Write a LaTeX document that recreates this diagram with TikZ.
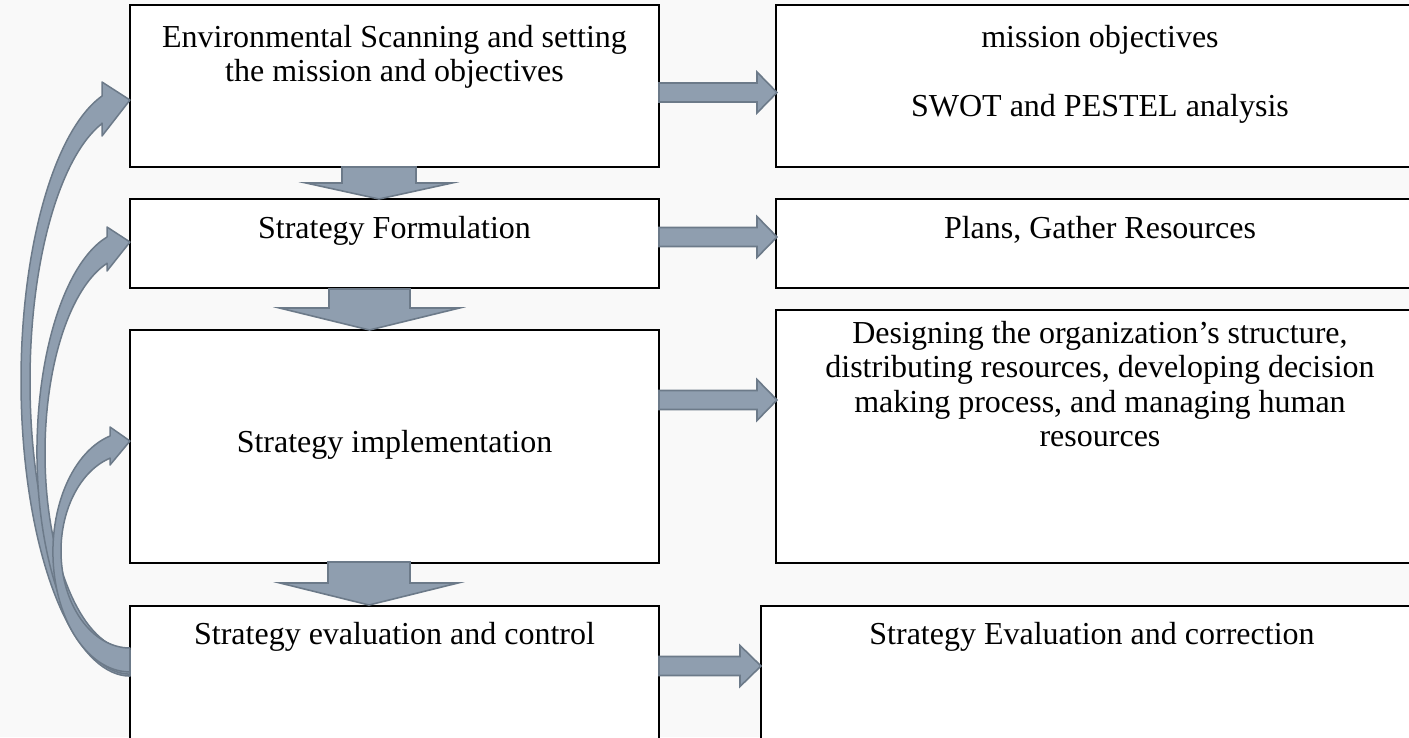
\documentclass[tikz,border=0pt]{standalone}
\usepackage{fontspec}
\setmainfont{Liberation Serif}
\usetikzlibrary{calc}
\definecolor{bg}{RGB}{249,249,249}
\definecolor{arrfill}{RGB}{143,158,175}
\definecolor{arrline}{RGB}{108,122,137}
\tikzset{
  box/.style={draw=black, line width=1.3pt, fill=white, rectangle, inner sep=0pt, outer sep=0pt},
  txt/.style={align=center, inner sep=0pt, anchor=base, font=\fontsize{32}{34.5}\selectfont},
  blockarrow/.style={fill=arrfill, draw=arrline, line width=1.6pt, line join=miter},
  curvearrow/.style={fill=arrfill, draw=arrline, line width=1.5pt, line join=round}
}
% right block arrow: x start, x head base, x tip, y center
\newcommand{\blockRight}[4]{%
  \path[blockarrow] (#1,#4-9.5) -- (#2,#4-9.5) -- (#2,#4-20.5) -- (#3,#4) -- (#2,#4+20.5) -- (#2,#4+9.5) -- (#1,#4+9.5) -- cycle;}
% down block arrow: x center, y top, y head base, y tip, shaft half, head half
\newcommand{\blockDown}[6]{%
  \path[blockarrow] (#1-#5,#2) -- (#1+#5,#2) -- (#1+#5,#3) -- (#1+#6,#3) -- (#1,#4) -- (#1-#6,#3) -- (#1-#5,#3) -- cycle;}
\begin{document}
\begin{tikzpicture}[x=1pt,y=-1pt]
\useasboundingbox (0,0) rectangle (1409,737);
\clip (0,0) rectangle (1409,737);
\fill[bg] (0,0) rectangle (1409,737);

% left column boxes
\node[box, minimum width=529pt, minimum height=162pt] (b1) at (394.5,86) {};
\node[box, minimum width=529pt, minimum height=89pt] (b2) at (394.5,243.5) {};
\node[box, minimum width=529pt, minimum height=233pt] (b3) at (394.5,446.5) {};
\node[box, minimum width=529pt, minimum height=134pt] (b4) at (394.5,673) {};
% right column boxes (running past the right edge)
\node[box, minimum width=648pt, minimum height=162pt] (r1) at (1100,86) {};
\node[box, minimum width=648pt, minimum height=89pt] (r2) at (1100,243.5) {};
\node[box, minimum width=648pt, minimum height=253pt] (r3) at (1100,436.5) {};
\node[box, minimum width=663pt, minimum height=134pt] (r4) at (1092.5,673) {};

% texts (anchored at the baseline of their last line)
\node[txt] (t1) at (394.5,81.5) {Environmental Scanning and setting\\the mission and objectives};
\node[txt] (t2) at (394.5,238) {Strategy Formulation};
\node[txt] (t3) at (394.5,452) {Strategy implementation};
\node[txt] (t4) at (394.5,644) {Strategy evaluation and control};
\node[txt] (u1) at (1100,116) {mission objectives\\[34.5pt]SWOT and PESTEL analysis};
\node[txt] (u2) at (1100,238) {Plans, Gather Resources};
\node[txt] (u3) at (1100,446.5) {Designing the organization’s structure,\\distributing resources, developing decision\\making process, and managing human\\resources};
\node[txt] (u4) at (1092,644) {Strategy Evaluation and correction};

% down arrows
\blockDown{379}{167}{183}{199}{37}{73}
\blockDown{369.5}{289}{308}{330}{40.5}{90}
\blockDown{369}{562}{583}{605}{41}{89}

% right arrows
\blockRight{659}{757}{777}{92.5}
\blockRight{659}{757}{777}{237}
\blockRight{659}{757}{777}{400}
\blockRight{659}{740}{761}{666}

% curved feedback arrows (from b4 to b1, b2, b3)
\path[curvearrow] (102,123) -- (102,136) -- (130,100) -- (102,82) -- (102,96)
  arc[start angle=255.1, end angle=90, x radius=109, y radius=295]
  -- (130,650)
  arc[start angle=90, end angle=253.7, x radius=100, y radius=268.6] -- cycle;
\path[curvearrow] (107,263) -- (107,271) -- (130,242) -- (107,227) -- (107,237)
  arc[start angle=255.7, end angle=90, x radius=93, y radius=222]
  -- (130,650)
  arc[start angle=90, end angle=254.3, x radius=85, y radius=197] -- cycle;
\path[curvearrow] (110,458) -- (110,465) -- (130,441) -- (110,427) -- (110,436)
  arc[start angle=255, end angle=90, x radius=77, y radius=120]
  -- (130,648)
  arc[start angle=90, end angle=253.2, x radius=69, y radius=97] -- cycle;
\end{tikzpicture}
\end{document}
